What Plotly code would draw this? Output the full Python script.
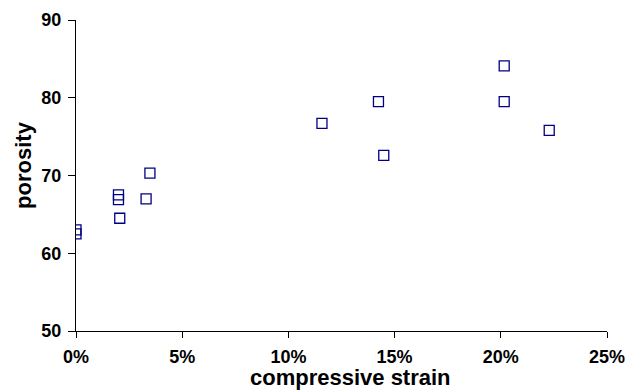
import plotly.graph_objects as go

strain = [0.0, 0.0, 0.020, 0.020, 0.0206, 0.033, 0.0348, 0.1158, 0.1424, 0.1449, 0.2016, 0.2016, 0.2228]
porosity = [63.0, 62.5, 67.5, 66.9, 64.5, 67.0, 70.3, 76.7, 79.5, 72.6, 84.1, 79.5, 75.8]
x_ticks = [0, 0.05, 0.10, 0.15, 0.20, 0.25]
x_labels = ["0%", "5%", "10%", "15%", "20%", "25%"]
y_ticks = [50, 60, 70, 80, 90]
y_labels = ["50", "60", "70", "80", "90"]
x_title = "compressive strain"
y_title = "porosity"

fig = go.Figure()
fig.add_trace(go.Scatter(
    x=strain, y=porosity, mode="markers",
    marker=dict(symbol="square-open", size=10, color="#000080",
                line=dict(width=1.3, color="#000080")),
    showlegend=False,
))

font = dict(family="Liberation Sans, Arial, sans-serif", color="black")
fig.update_layout(
    width=639, height=390,
    margin=dict(l=68, r=40, t=12, b=67),
    plot_bgcolor="white", paper_bgcolor="white",
    font=font,
)
fig.update_xaxes(
    range=[0, 0.25], tickvals=x_ticks, ticktext=[f"<b>{t}</b>" for t in x_labels],
    showgrid=False, zeroline=False, showline=True, linecolor="black", linewidth=1,
    ticks="outside", ticklen=6, tickcolor="black", automargin=False,
    ticklabelstandoff=3,
    tickfont=dict(size=18, family="Liberation Sans", color="black"),
)
fig.update_yaxes(
    range=[50, 90], tickvals=y_ticks, ticktext=[f"<b>{t}</b>" for t in y_labels],
    showgrid=False, zeroline=False, showline=True, linecolor="black", linewidth=1,
    ticks="outside", ticklen=7, tickcolor="black", automargin=False,
    ticklabelstandoff=3,
    tickfont=dict(size=18, family="Liberation Sans", color="black"),
)
fig.add_annotation(
    text=f"<b>{x_title}</b>", xref="paper", yref="paper",
    x=0.5177, y=-0.151, xanchor="center", yanchor="middle",
    showarrow=False, font=dict(size=22, family="Liberation Sans", color="black"),
)
fig.add_annotation(
    text=f"<b>{y_title}</b>", xref="paper", yref="paper", textangle=-90,
    x=-0.098, y=0.534, xanchor="center", yanchor="middle",
    showarrow=False, font=dict(size=22, family="Liberation Sans", color="black"),
)
fig.write_html("out.html")
